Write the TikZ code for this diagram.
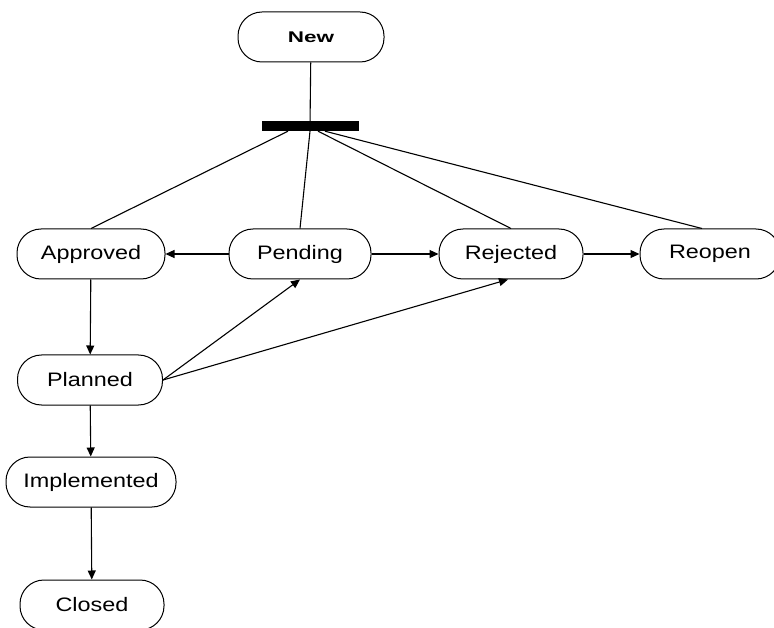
\documentclass[tikz,border=0pt]{standalone}
\usepackage{fontspec}
\setmainfont[FakeStretch=1.2]{Liberation Sans}
\newfontfamily\headfont[FakeStretch=1.45]{Liberation Sans}
\usetikzlibrary{arrows.meta}

\begin{document}
\begin{tikzpicture}[
x=1pt, y=-1pt,
state/.style={draw, rounded corners=24pt, minimum width=144pt, minimum height=50pt, inner sep=0pt, line width=1pt, font=\fontsize{19.5}{22}\selectfont},
link/.style={line width=1.1pt},
arrow/.style={link, -{Triangle[length=9pt,width=8pt]}}
]
\clip (0,0) rectangle (774,628);
\node[state, minimum width=146pt, font=\headfont\bfseries\fontsize{15.5}{18}\selectfont] (new) at (311,37) {New};
\node[fill, minimum width=97pt, minimum height=10pt, inner sep=0pt] (bar) at (310,126) {};
\node[state, minimum width=148pt] (approved) at (91,254) {Approved};
\node[state, minimum width=142pt] (pending) at (300,254) {Pending};
\node[state] (rejected) at (511,254) {Rejected};
\node[state, minimum width=140pt] (reopen) at (710,254) {Reopen};
\node[state, minimum width=145pt] (planned) at (90,380) {Planned};
\node[state, minimum width=170pt] (impl) at (91,482) {Implemented};
\node[state] (closed) at (92,605) {Closed};

\draw[link] (new) -- (bar);
\draw[link] ([xshift=-22pt]bar.south) -- (approved.north);
\draw[link] (bar.south) -- (pending.north);
\draw[link] ([xshift=8pt]bar.south) -- (rejected.north);
\draw[link] ([xshift=15pt]bar.south) -- ([xshift=-8pt]reopen.north);
\draw[arrow] (pending) -- (approved);
\draw[arrow] (pending) -- (rejected);
\draw[arrow] (rejected) -- (reopen);
\draw[arrow] (approved) -- (planned);
\draw[arrow] (planned.east) -- (pending.south);
\draw[arrow] (planned.east) -- ([xshift=-3pt]rejected.south);
\draw[arrow] (planned) -- (impl);
\draw[arrow] (impl) -- (closed);
\end{tikzpicture}
\end{document}
